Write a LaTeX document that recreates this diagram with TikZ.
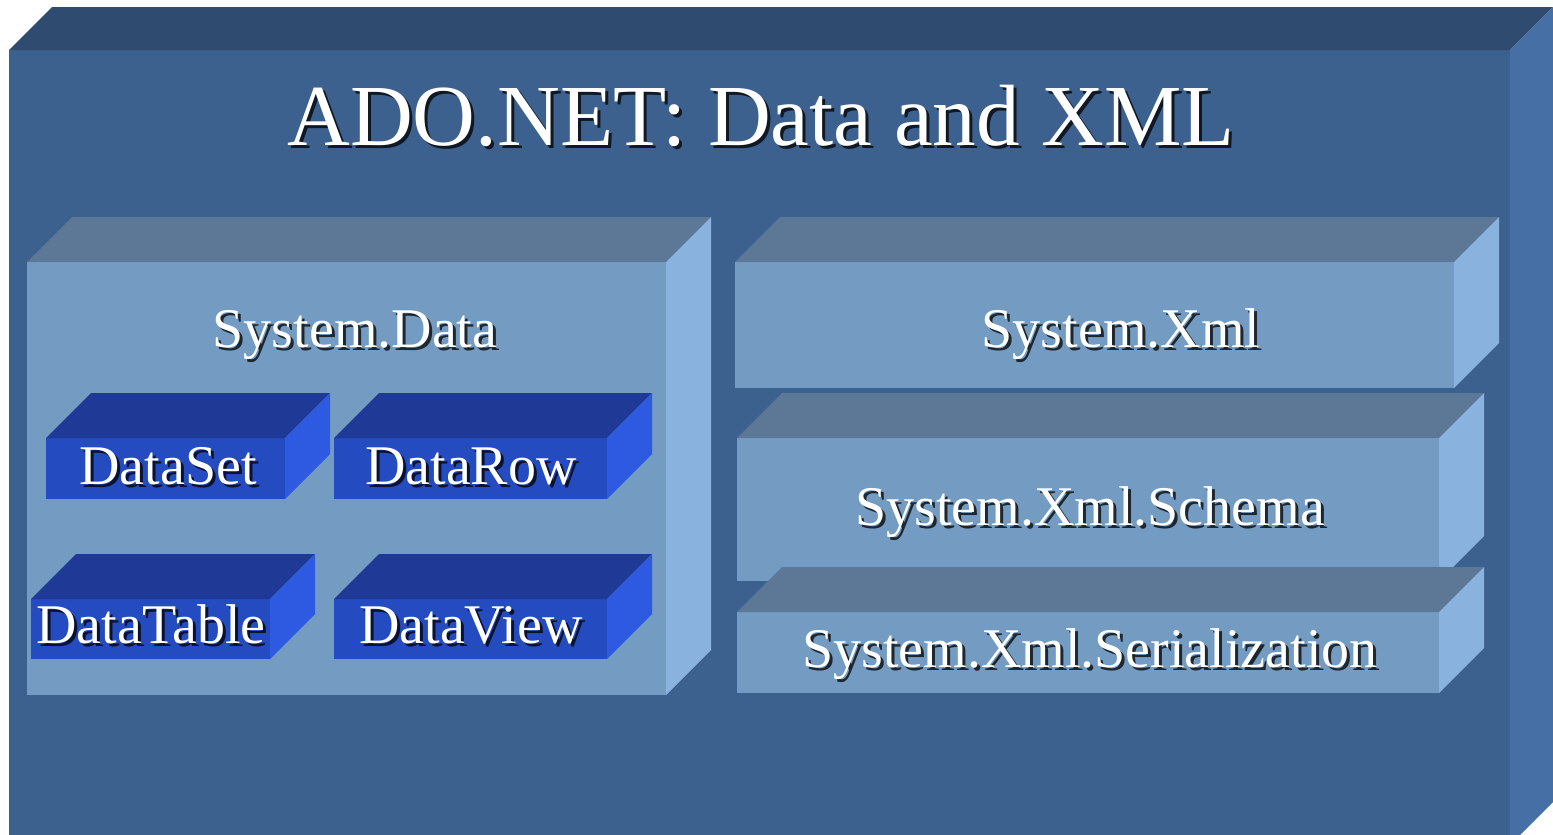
\documentclass[tikz,border=0pt]{standalone}
\usepackage{fontspec}
\setmainfont{Liberation Serif}

\definecolor{outerfront}{HTML}{3C618E}
\definecolor{outertop}{HTML}{2F4C70}
\definecolor{outerside}{HTML}{4670A5}
\definecolor{panefront}{HTML}{749CC2}
\definecolor{panetop}{HTML}{5C7896}
\definecolor{paneside}{HTML}{8AB2DE}
\definecolor{bluefront}{HTML}{254BC0}
\definecolor{bluetop}{HTML}{1E3A96}
\definecolor{blueside}{HTML}{2D5AE0}

% box: left, top, right, bottom, depth, colour prefix
\newcommand\slab[6]{%
  \fill[#6front] (#1,#2) rectangle (#3,#4);
  \fill[#6top] (#1,#2) -- ++(#5,-#5) -- (#3+#5,#2-#5) -- (#3,#2) -- cycle;
  \fill[#6side] (#3,#2) -- ++(#5,-#5) -- (#3+#5,#4-#5) -- (#3,#4) -- cycle;
}

\begin{document}
\begin{tikzpicture}[x=1pt,y=-1pt,
  txt/.style={anchor=base,inner sep=0pt,text=white},
  shd/.style={anchor=base,inner sep=0pt,text=black,opacity=0.75},
  big/.style={font=\fontsize{87}{100}\selectfont},
  small/.style={font=\fontsize{56}{64}\selectfont}]
\useasboundingbox[fill=white] (0,0) rectangle (1553,835);

\slab{9}{50}{1510}{845}{43}{outer}
\foreach \xa/\ya/\xb/\yb in {27/262/666/695, 735/262/1454/388, 737/438/1439/581, 737/612/1439/693}
    {\slab{\xa}{\ya}{\xb}{\yb}{45}{pane}}
\foreach \xa/\ya/\xb/\yb in {46/438/285/499, 334/438/607/499, 31/599/270/659, 334/599/607/659}
    {\slab{\xa}{\ya}{\xb}{\yb}{45}{blue}}

\foreach \nm/\cx/\by/\sz/\tx in {title/761/145/big/ADO.NET: Data and XML,
    sysdata/355/347/small/System.Data, sysxml/1121/347/small/System.Xml,
    schema/1090/525/small/System.Xml.Schema, serial/1090/667/small/System.Xml.Serialization,
    dataset/168/484/small/DataSet, datarow/471/484/small/DataRow,
    datatable/151/643/small/DataTable, dataview/471/643/small/DataView} {
    \node[shd,\sz] (\nm-shadow) at (\cx+3,\by+3) {\tx};
    \node[txt,\sz] (\nm) at (\cx,\by) {\tx};
}
\end{tikzpicture}
\end{document}
